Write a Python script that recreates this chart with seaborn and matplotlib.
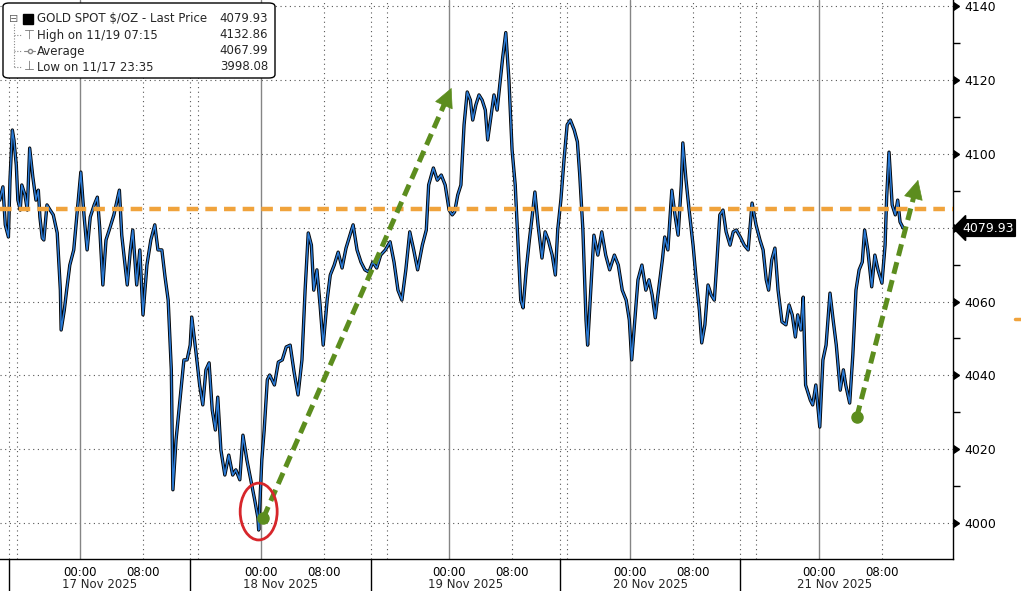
import matplotlib.pyplot as plt
import matplotlib.lines as mlines
import matplotlib.patches as mpatches
import matplotlib.transforms as mtransforms
import pandas as pd
import seaborn as sns

# trading hours counted from 00:00 on 17 Nov (session breaks removed)
hours = [
    -10.2, -9.8, -9.5, -9.1, -8.9, -8.6, -8.4, -8.1, -7.9, -7.6,
    -7.4, -7.0, -6.7, -6.4, -6.0, -5.6, -5.3, -5.1, -4.8, -4.6,
    -4.2, -3.8, -3.4, -2.9, -2.5, -2.4, -2.0, -1.7, -1.3, -0.8,
    -0.4, 0.1, 0.5, 0.9, 1.3, 1.8, 2.2, 2.5, 2.9, 3.3,
    3.8, 4.3, 5.0, 5.3, 6.0, 6.4, 6.7, 7.2, 7.6, 8.0,
    8.5, 9.0, 9.5, 9.9, 10.4, 10.8, 11.2, 11.6, 11.8, 12.2,
    12.7, 13.2, 13.6, 14.0, 14.2, 14.7, 15.2, 15.6, 16.0, 16.4,
    16.8, 17.2, 17.5, 17.9, 18.4, 18.9, 19.4, 19.8, 20.3, 20.7,
    21.2, 21.7, 22.2, 22.6, 22.7, 23.1, 23.4, 23.8, 24.1, 24.7,
    25.2, 25.7, 26.2, 26.7, 27.2, 27.7, 28.2, 28.6, 29.0, 29.4,
    29.7, 30.1, 30.5, 30.9, 31.4, 31.8, 32.3, 32.8, 33.3, 33.8,
    34.3, 34.7, 35.2, 35.7, 36.2, 36.7, 37.2, 37.7, 38.2, 38.8,
    39.4, 39.9, 40.4, 40.9, 41.4, 41.9, 42.4, 42.9, 43.5, 44.0,
    44.3, 44.9, 45.4, 45.9, 46.4, 46.9, 47.3, 47.6, 48.0, 48.4,
    48.8, 49.2, 49.6, 49.9, 50.3, 50.7, 51.1, 51.5, 51.8, 52.2,
    52.6, 53.0, 53.4, 53.7, 54.1, 54.5, 54.9, 55.3, 55.7, 56.0,
    56.3, 56.7, 57.1, 57.4, 57.8, 58.2, 58.7, 59.1, 59.5, 60.0,
    60.4, 60.7, 61.1, 61.5, 61.9, 62.3, 62.8, 63.2, 63.5, 63.9,
    64.3, 64.5, 64.9, 65.3, 65.8, 66.3, 66.8, 67.3, 67.9, 68.4,
    68.9, 69.4, 69.8, 70.1, 70.5, 70.9, 71.4, 71.9, 72.3, 72.7,
    73.1, 73.4, 74.0, 74.3, 74.7, 75.2, 75.6, 76.0, 76.4, 76.6,
    77.0, 77.4, 77.9, 78.3, 78.7, 79.0, 79.4, 79.8, 80.2, 80.6,
    80.9, 81.3, 81.7, 82.1, 82.6, 83.0, 83.4, 83.9, 84.4, 84.9,
    85.4, 85.9, 86.4, 86.8, 87.2, 87.5, 87.9, 88.3, 88.7, 89.2,
    89.7, 90.1, 90.5, 90.9, 91.2, 91.6, 91.9, 92.2, 92.8, 93.1,
    93.5, 94.0, 94.4, 94.8, 95.3, 95.7, 96.1, 96.6, 97.0, 97.3,
    97.8, 98.2, 98.6, 99.0, 99.4, 99.7, 100.1, 100.6, 101.0, 101.4,
    101.9, 102.3, 102.5, 102.8, 103.2, 103.6, 103.9, 104.2, 104.6,
]
price = [
    4087.5, 4091.1, 4080.8, 4077.5, 4093.0, 4106.5, 4103.8, 4097.0, 4087.5, 4084.8,
    4091.6, 4088.9, 4084.8, 4101.6, 4093.8, 4087.5, 4090.2, 4082.9, 4077.2, 4076.7,
    4086.2, 4084.8, 4083.5, 4078.6, 4063.1, 4052.3, 4057.7, 4063.1, 4069.9, 4074.0,
    4083.5, 4095.1, 4083.5, 4074.0, 4082.9, 4086.2, 4088.3, 4080.0, 4064.5, 4076.7,
    4080.0, 4083.5, 4090.2, 4078.0, 4064.5, 4074.0, 4079.4, 4064.5, 4074.0, 4056.4,
    4069.9, 4076.7, 4080.8, 4074.0, 4074.0, 4066.7, 4060.4, 4041.5, 4009.0, 4022.5,
    4033.3, 4044.2, 4044.2, 4048.2, 4055.8, 4046.9, 4037.4, 4032.0, 4041.5, 4043.4,
    4030.6, 4025.2, 4034.1, 4019.8, 4013.0, 4018.4, 4013.0, 4014.4, 4011.7, 4023.8,
    4017.1, 4011.7, 4006.2, 4001.4, 3998.1, 4017.1, 4025.2, 4038.8, 4040.1, 4037.4,
    4043.6, 4044.2, 4047.7, 4048.2, 4040.9, 4034.7, 4044.2, 4063.1, 4078.6, 4075.3,
    4063.1, 4068.6, 4059.1, 4048.2, 4060.4, 4067.2, 4069.9, 4073.4, 4069.1, 4074.5,
    4078.0, 4080.8, 4074.0, 4070.7, 4068.6, 4068.0, 4070.7, 4069.1, 4072.6, 4074.0,
    4076.2, 4070.7, 4063.1, 4060.4, 4068.6, 4078.9, 4074.0, 4068.6, 4075.3, 4079.4,
    4091.6, 4096.2, 4092.9, 4094.3, 4091.6, 4084.8, 4083.5, 4084.3, 4088.9, 4091.6,
    4107.9, 4116.8, 4114.6, 4109.2, 4113.3, 4116.0, 4114.6, 4111.9, 4103.8, 4109.8,
    4116.0, 4111.9, 4120.1, 4126.0, 4132.9, 4120.1, 4101.1, 4091.6, 4074.0, 4060.4,
    4058.3, 4068.6, 4076.7, 4082.1, 4089.7, 4080.8, 4071.8, 4078.9, 4076.7, 4072.6,
    4067.2, 4079.4, 4087.5, 4098.4, 4107.9, 4109.2, 4106.5, 4103.3, 4094.3, 4079.4,
    4055.0, 4048.2, 4063.1, 4078.0, 4072.6, 4078.9, 4072.6, 4068.6, 4072.6, 4069.9,
    4063.1, 4060.4, 4055.0, 4044.2, 4055.0, 4065.9, 4069.9, 4063.1, 4065.9, 4061.8,
    4055.6, 4061.2, 4071.3, 4077.5, 4074.0, 4090.2, 4083.5, 4078.0, 4091.6, 4103.0,
    4093.0, 4084.8, 4075.3, 4065.9, 4057.7, 4048.8, 4053.7, 4064.5, 4061.8, 4060.4,
    4069.9, 4083.5, 4084.8, 4078.9, 4075.3, 4078.9, 4079.4, 4077.5, 4075.3, 4074.0,
    4086.7, 4080.8, 4076.7, 4074.0, 4065.9, 4063.1, 4071.3, 4074.5, 4063.1, 4054.5,
    4053.7, 4059.1, 4056.4, 4050.4, 4056.4, 4052.3, 4061.2, 4037.4, 4033.3, 4032.0,
    4037.4, 4026.0, 4044.2, 4048.2, 4062.3, 4055.0, 4048.2, 4036.0, 4041.5, 4037.4,
    4032.5, 4045.5, 4063.1, 4068.6, 4070.7, 4079.4, 4074.0, 4064.0, 4072.6, 4068.6,
    4065.0, 4075.3, 4088.3, 4100.5, 4086.2, 4083.5, 4087.5, 4081.6, 4079.93,
]

level = 4085.0
last_price = 4079.93

y_major = [4000, 4020, 4040, 4060, 4080, 4100, 4120, 4140]
y_minor = [4010, 4030, 4050, 4070, 4090, 4110, 4130]
midnights = [0.0, 23.0, 46.9, 69.9, 93.9]
mornings = [8.0, 31.0, 54.9, 77.9, 101.9]
day_breaks = [-9.0, 14.0, 37.0, 61.0, 83.9]
after_breaks = [-8.0, 15.0, 39.0, 61.9, 85.9]
minor_hours = [-8.0, -4.0, 4.0, 12.0, 15.0, 19.0, 27.0, 35.0, 39.0, 43.0,
               51.0, 59.0, 61.9, 66.0, 74.0, 82.0, 85.9, 90.0, 98.0, 106.0]
day_centres = [2.5, 25.5, 49.0, 72.5, 95.9]
day_names = ["17 Nov 2025", "18 Nov 2025", "19 Nov 2025", "20 Nov 2025", "21 Nov 2025"]

legend_labels = ["GOLD SPOT $/OZ - Last Price", "High on 11/19 07:15", "Average", "Low on 11/17 23:35"]
legend_values = ["4079.93", "4132.86", "4067.99", "3998.08"]

arrow_start = [(23.3, 4001.4), (98.7, 4028.7)]
arrow_tip = [(47.2, 4117.9), (106.5, 4093.0)]
low_mark = (22.7, 4003.1)

x_lim = (-10.17, 110.93)
y_lim = (3990.24, 4141.73)

sns.set_style("white")
plt.rcParams["font.family"] = ["DejaVu Sans"]

fig = plt.figure(figsize=(10.21, 5.91), dpi=100)
ax = fig.add_axes([0, 32 / 591, 953 / 1021, 559 / 591])
ax.set_xlim(*x_lim)
ax.set_ylim(*y_lim)

dot = (0, (1, 3.2))
for v in y_major:
    ax.axhline(v, color="#555555", lw=0.8, ls=dot, zorder=1)
for h in mornings + day_breaks + after_breaks:
    ax.axvline(h, color="#555555", lw=0.8, ls=dot, zorder=1)
for h in midnights:
    ax.axvline(h, color="#858585", lw=1.0, zorder=1)

df = pd.DataFrame({"hour": hours, "price": price})
sns.lineplot(data=df, x="hour", y="price", color="black", linewidth=2.4,
             estimator=None, sort=False, ax=ax, zorder=3)
sns.lineplot(data=df, x="hour", y="price", color="#2b7bd6", linewidth=1.1,
             estimator=None, sort=False, ax=ax, zorder=3)

ax.axhline(level, color="#F0A33C", lw=3.2, dashes=(2.6, 1.6), zorder=4)

green = "#5C8D1E"
for (x0, y0), (x1, y1) in zip(arrow_start, arrow_tip):
    p0 = ax.transData.transform((x0, y0))
    p1 = ax.transData.transform((x1, y1))
    length = ((p1[0] - p0[0]) ** 2 + (p1[1] - p0[1]) ** 2) ** 0.5
    f = 1 - 15 / length
    bx, by = x0 + f * (x1 - x0), y0 + f * (y1 - y0)
    ax.plot([x0, bx], [y0, by], color=green, lw=3.6, dashes=(2.4, 1.3), zorder=5)
    ax.annotate("", xy=(x1, y1), xytext=(bx, by),
                arrowprops=dict(arrowstyle="-|>,head_length=1.3,head_width=0.65",
                                color=green, lw=0.5, shrinkA=0, shrinkB=0,
                                mutation_scale=10), zorder=5)
    ax.plot(x0, y0, "o", color=green, ms=8, zorder=5)

ax.add_patch(mpatches.Ellipse(low_mark, 4.7, 15.4, fill=False, ec="#D7262B", lw=2, zorder=6))

ax.set(xlabel=None, ylabel=None)
ax.yaxis.tick_right()
ax.set_yticks(y_major)
ax.set_yticks(y_minor, minor=True)
# the last-price box takes the place of the 4080 label
ax.set_yticklabels(["" if v == 4080 else str(v) for v in y_major])
ax.tick_params(axis="y", which="major", length=7, width=1, pad=1, labelsize=9, colors="black")
ax.tick_params(axis="y", which="minor", length=5, width=1, colors="black")
for t in ax.yaxis.get_major_ticks():
    t.tick2line.set_marker(9)
    t.tick2line.set_markersize(6)
    t.tick2line.set_markerfacecolor("black")

x_ticks = sorted(midnights + mornings)
ax.set_xticks(x_ticks)
ax.set_xticklabels(["00:00" if h in midnights else "08:00" for h in x_ticks])
ax.set_xticks(minor_hours, minor=True)
ax.tick_params(axis="x", which="both", length=4, width=0.8, pad=1, labelsize=8.5, colors="black")

ax.spines["left"].set_visible(False)
ax.spines["top"].set_visible(False)
for s in ["right", "bottom"]:
    ax.spines[s].set_color("black")
    ax.spines[s].set_linewidth(1)

ax.vlines(day_breaks, -0.06, 0, transform=ax.get_xaxis_transform(), colors="black", lw=1, clip_on=False)
for c, name in zip(day_centres, day_names):
    ax.text(c, -0.046, name, transform=ax.get_xaxis_transform(), ha="center", va="center", fontsize=8.5)

trans = mtransforms.offset_copy(ax.get_yaxis_transform(), fig=fig, x=9, units="dots")
ax.text(1.0, last_price, "4079.93", transform=trans, ha="left", va="center", color="white", fontsize=9,
        bbox=dict(boxstyle="larrow,pad=0.15", fc="black", ec="black"), zorder=10, clip_on=False)


def fx(px):
    return px / 1021


def fy(py):
    return 1 - py / 591


fig.add_artist(mpatches.FancyBboxPatch((fx(3), fy(78)), fx(275) - fx(3), fy(3) - fy(78),
                                       boxstyle="round,pad=0,rounding_size=0.006", transform=fig.transFigure,
                                       fc="white", ec="black", lw=1, zorder=20))
rows = [19, 35, 51, 67]
for y, label, val in zip(rows, legend_labels, legend_values):
    fig.text(fx(37), fy(y), label, va="center", fontsize=8.5, zorder=21)
    fig.text(fx(268), fy(y), val, ha="right", va="center", fontsize=8.5, zorder=21)
fig.add_artist(mpatches.Rectangle((fx(23), fy(24)), fx(33) - fx(23), fy(14) - fy(24),
                                  transform=fig.transFigure, fc="black", ec="black", zorder=21))
fig.text(fx(13.5), fy(19), "⊟", ha="center", va="center", fontsize=8, color="#666666", zorder=21)
fig.add_artist(mlines.Line2D([fx(13.5)] * 2, [fy(24), fy(67)], color="#888888", lw=0.8,
                             ls=(0, (1, 1.5)), transform=fig.transFigure, zorder=21))
for y in rows[1:]:
    fig.add_artist(mlines.Line2D([fx(13.5), fx(21)], [fy(y)] * 2, color="#888888", lw=0.8,
                                 ls=(0, (1, 1.5)), transform=fig.transFigure, zorder=21))
fig.text(fx(29.5), fy(35), "⊤", ha="center", va="center", fontsize=9, color="#777777", zorder=21)
fig.text(fx(29.5), fy(67), "⊥", ha="center", va="center", fontsize=9, color="#777777", zorder=21)
fig.add_artist(mlines.Line2D([fx(24), fx(35)], [fy(51)] * 2, color="#888888", lw=0.8,
                             transform=fig.transFigure, zorder=21))
fig.add_artist(mlines.Line2D([fx(29.5)], [fy(51)], marker="o", ms=3, mfc="white", mec="#888888",
                             transform=fig.transFigure, zorder=22))

fig.add_artist(mlines.Line2D([fx(1015), fx(1021)], [fy(319)] * 2, color="#F0A33C", lw=2.5,
                             transform=fig.transFigure))

fig.savefig("out.png", dpi=100)
